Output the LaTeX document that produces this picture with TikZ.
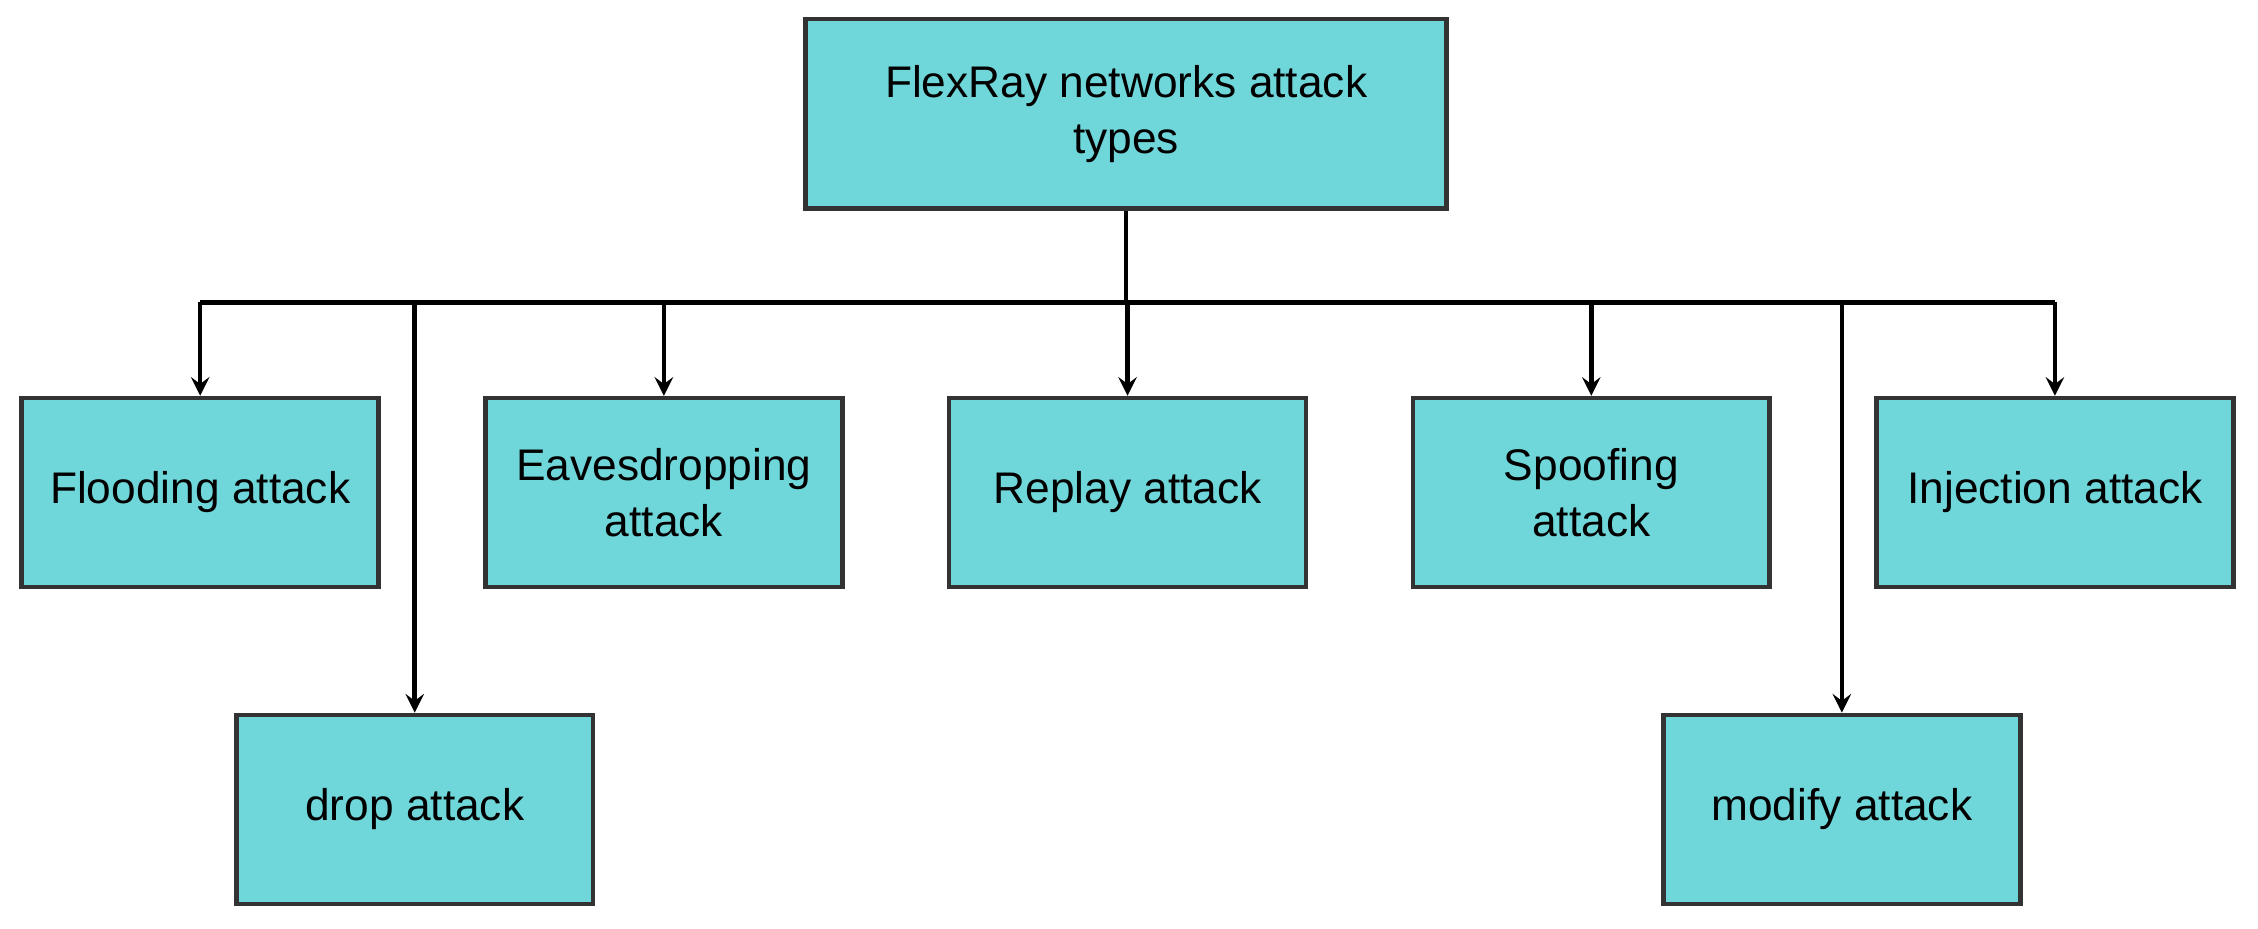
\documentclass[tikz,border=0pt]{standalone}
\usepackage{fontspec}
\setmainfont{Liberation Sans}
\usetikzlibrary{positioning,arrows,calc}
\begin{document}
\begin{tikzpicture}[x=0.0144cm,y=-0.0144cm,>=stealth,line width=1.3pt]
	\tikzstyle{attack}=[rectangle,draw=black!80,fill={rgb,255:red,111;green,214;blue,218},minimum width=3.57cm,minimum height=1.89cm,align=center,inner sep=2pt,font=\fontsize{12.6}{16}\selectfont]
	\useasboundingbox (0,0) rectangle (1568,645);

	%root
	\node[attack,minimum width=6.41cm,minimum height=1.9cm] (root) at (782,79) {FlexRay networks attack\\types};
	\coordinate (bar) at (782,210);

	%first row
	\node[attack] (flood) at (139,342) {Flooding attack};
	\node[attack] (eaves) at (461,342) {Eavesdropping\\attack};
	\node[attack] (replay) at (783,342) {Replay attack};
	\node[attack] (spoof) at (1105,342) {Spoofing\\attack};
	\node[attack] (inject) at (1427,342) {Injection attack};

	%second row
	\node[attack] (drop) at (288,562) {drop attack};
	\node[attack] (modify) at (1279,562) {modify attack};

	\draw (root) -- (bar);
	\draw (flood.north |- bar) -- (inject.north |- bar);
	\foreach \n in {flood,eaves,replay,spoof,inject,drop,modify}
		\draw[->] (\n.north |- bar) -- (\n);
\end{tikzpicture}
\end{document}
